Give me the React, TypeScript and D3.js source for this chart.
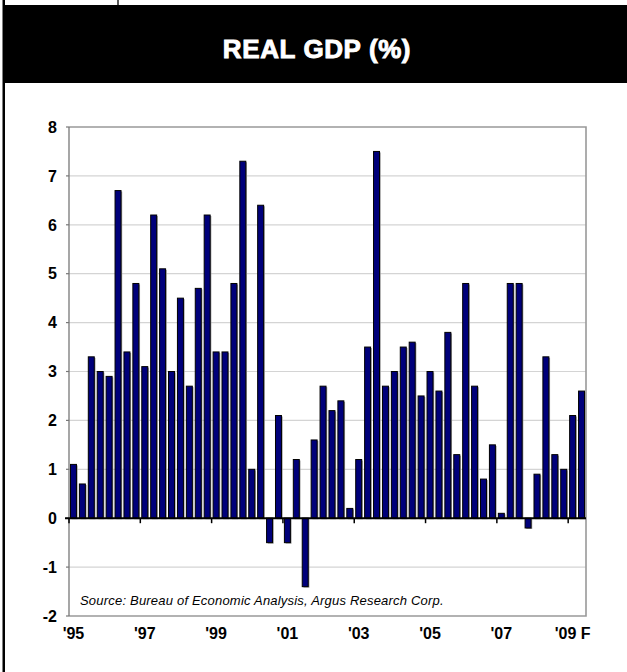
import React, { useEffect, useRef } from "react";
import * as d3 from "d3";

const years = ["95", "96", "97", "98", "99", "00", "01", "02", "03", "04", "05", "06", "07", "08", "09"];
const quartersPerYear = ["1Q", "2Q", "3Q", "4Q"];
const categories: string[] = years
  .flatMap((y) => quartersPerYear.map((q) => `${q}${y}`))
  .slice(0, 58);

const gdpValues = [
  1.1, 0.7, 3.3, 3.0, 2.9, 6.7, 3.4, 4.8,
  3.1, 6.2, 5.1, 3.0, 4.5, 2.7, 4.7, 6.2,
  3.4, 3.4, 4.8, 7.3, 1.0, 6.4, -0.5, 2.1,
  -0.5, 1.2, -1.4, 1.6, 2.7, 2.2, 2.4, 0.2,
  1.2, 3.5, 7.5, 2.7, 3.0, 3.5, 3.6, 2.5,
  3.0, 2.6, 3.8, 1.3, 4.8, 2.7, 0.8, 1.5,
  0.1, 4.8, 4.8, -0.2, 0.9, 3.3, 1.3, 1.0,
  2.1, 2.6,
];

const yTicks = [-2, -1, 0, 1, 2, 3, 4, 5, 6, 7, 8];
const xTickLabels = ["'95", "'97", "'99", "'01", "'03", "'05", "'07", "'09 F"];
const xTickEvery = 8;

const title = "REAL GDP (%)";
const sourceNote = "Source: Bureau of Economic Analysis, Argus Research Corp.";

const W = 627;
const H = 672;
const plot = { left: 69, right: 586, top: 127, bottom: 616 };
const FONT = "'Liberation Sans', Arial, Helvetica, sans-serif";

export default function App() {
  const ref = useRef<SVGSVGElement | null>(null);

  useEffect(() => {
    document.body.style.margin = "0";
    const svg = d3.select(ref.current);
    svg.selectAll("*").remove();

    const x = d3
      .scaleBand<string>()
      .domain(categories)
      .range([plot.left, plot.right])
      .paddingInner(0.33)
      .paddingOuter(0.165);
    const step = x.step();
    const y = d3.scaleLinear().domain([-2, 8]).range([plot.bottom, plot.top]);

    svg.append("rect").attr("x", 0).attr("y", 0).attr("width", W).attr("height", H).attr("fill", "#fff");

    svg.append("line").attr("x1", 4).attr("x2", 4).attr("y1", 0).attr("y2", 6).attr("stroke", "#222").attr("stroke-width", 1.5);
    svg.append("line").attr("x1", 118).attr("x2", 118).attr("y1", 0).attr("y2", 6).attr("stroke", "#222").attr("stroke-width", 1.5);

    svg.append("rect").attr("x", 3).attr("y", 5).attr("width", W - 3).attr("height", 78).attr("fill", "#000");
    svg
      .append("text")
      .attr("x", 317)
      .attr("y", 57.5)
      .attr("text-anchor", "middle")
      .attr("font-family", FONT)
      .attr("font-weight", "bold")
      .attr("font-size", 26)
      .attr("fill", "#fff")
      .attr("stroke", "#fff")
      .attr("stroke-width", 0.9)
      .attr("letter-spacing", 0.6)
      .text(title);

    svg.append("rect").attr("x", 2.5).attr("y", 0).attr("width", 2.5).attr("height", H).attr("fill", "#000");

    svg
      .append("g")
      .selectAll("line")
      .data(yTicks.filter((t) => t !== 0 && t !== 8 && t !== -2))
      .join("line")
      .attr("x1", plot.left)
      .attr("x2", plot.right)
      .attr("y1", (d) => y(d))
      .attr("y2", (d) => y(d))
      .attr("stroke", "#d4d4d4")
      .attr("stroke-width", 1.2);

    svg
      .append("path")
      .attr("d", `M${plot.left},${y(8)}H${plot.right}V${y(-2)}H${plot.left}`)
      .attr("fill", "none")
      .attr("stroke", "#999")
      .attr("stroke-width", 1.6);

    const bars = svg.append("g");
    const bw = x.bandwidth();
    bars
      .selectAll("rect.shadow")
      .data(gdpValues)
      .join("rect")
      .attr("class", "shadow")
      .attr("x", (_, i) => (x(categories[i]) as number) + 1.2)
      .attr("y", (d) => Math.min(y(d), y(0)) + 1)
      .attr("width", bw)
      .attr("height", (d) => Math.abs(y(d) - y(0)))
      .attr("fill", "#9a9a9a");
    bars
      .selectAll("rect.bar")
      .data(gdpValues)
      .join("rect")
      .attr("class", "bar")
      .attr("x", (_, i) => x(categories[i]) as number)
      .attr("y", (d) => Math.min(y(d), y(0)))
      .attr("width", bw)
      .attr("height", (d) => Math.abs(y(d) - y(0)))
      .attr("fill", "#00007a")
      .attr("stroke", "#000")
      .attr("stroke-width", 1);

    svg.append("line").attr("x1", plot.left).attr("x2", plot.left).attr("y1", y(8)).attr("y2", y(-2)).attr("stroke", "#777").attr("stroke-width", 1.3);
    svg
      .append("g")
      .selectAll("line")
      .data(yTicks)
      .join("line")
      .attr("x1", plot.left - 3)
      .attr("x2", plot.left)
      .attr("y1", (d) => y(d))
      .attr("y2", (d) => y(d))
      .attr("stroke", "#777")
      .attr("stroke-width", 1.2);

    svg.append("line").attr("x1", plot.left - 4).attr("x2", plot.right).attr("y1", y(0)).attr("y2", y(0)).attr("stroke", "#000").attr("stroke-width", 2);
    const tickIdx = d3.range(0, categories.length, xTickEvery);
    svg
      .append("g")
      .selectAll("line")
      .data(tickIdx)
      .join("line")
      .attr("x1", (i) => (x(categories[i]) as number) - (step - bw) / 2)
      .attr("x2", (i) => (x(categories[i]) as number) - (step - bw) / 2)
      .attr("y1", y(0))
      .attr("y2", y(0) + 5)
      .attr("stroke", "#000")
      .attr("stroke-width", 1.5);

    svg
      .append("g")
      .selectAll("text")
      .data(yTicks)
      .join("text")
      .attr("x", 57)
      .attr("y", (d) => y(d))
      .attr("dy", "0.36em")
      .attr("text-anchor", "end")
      .attr("font-family", FONT)
      .attr("font-weight", "bold")
      .attr("font-size", 16)
      .attr("fill", "#000")
      .text((d) => String(d));

    svg
      .append("g")
      .selectAll("text")
      .data(tickIdx)
      .join("text")
      .attr("x", (i) => (x(categories[i]) as number) + bw / 2)
      .attr("y", 639)
      .attr("text-anchor", "middle")
      .attr("font-family", FONT)
      .attr("font-weight", "bold")
      .attr("font-size", 16)
      .attr("fill", "#000")
      .text((_, k) => xTickLabels[k]);

    svg
      .append("text")
      .attr("x", 80)
      .attr("y", 605)
      .attr("font-family", FONT)
      .attr("font-style", "italic")
      .attr("font-size", 13)
      .attr("letter-spacing", 0.2)
      .attr("fill", "#000")
      .text(sourceNote);
  }, []);

  return (
    <svg
      ref={ref}
      width={W}
      height={H}
      style={{ position: "absolute", left: 0, top: 0, display: "block" }}
    />
  );
}
